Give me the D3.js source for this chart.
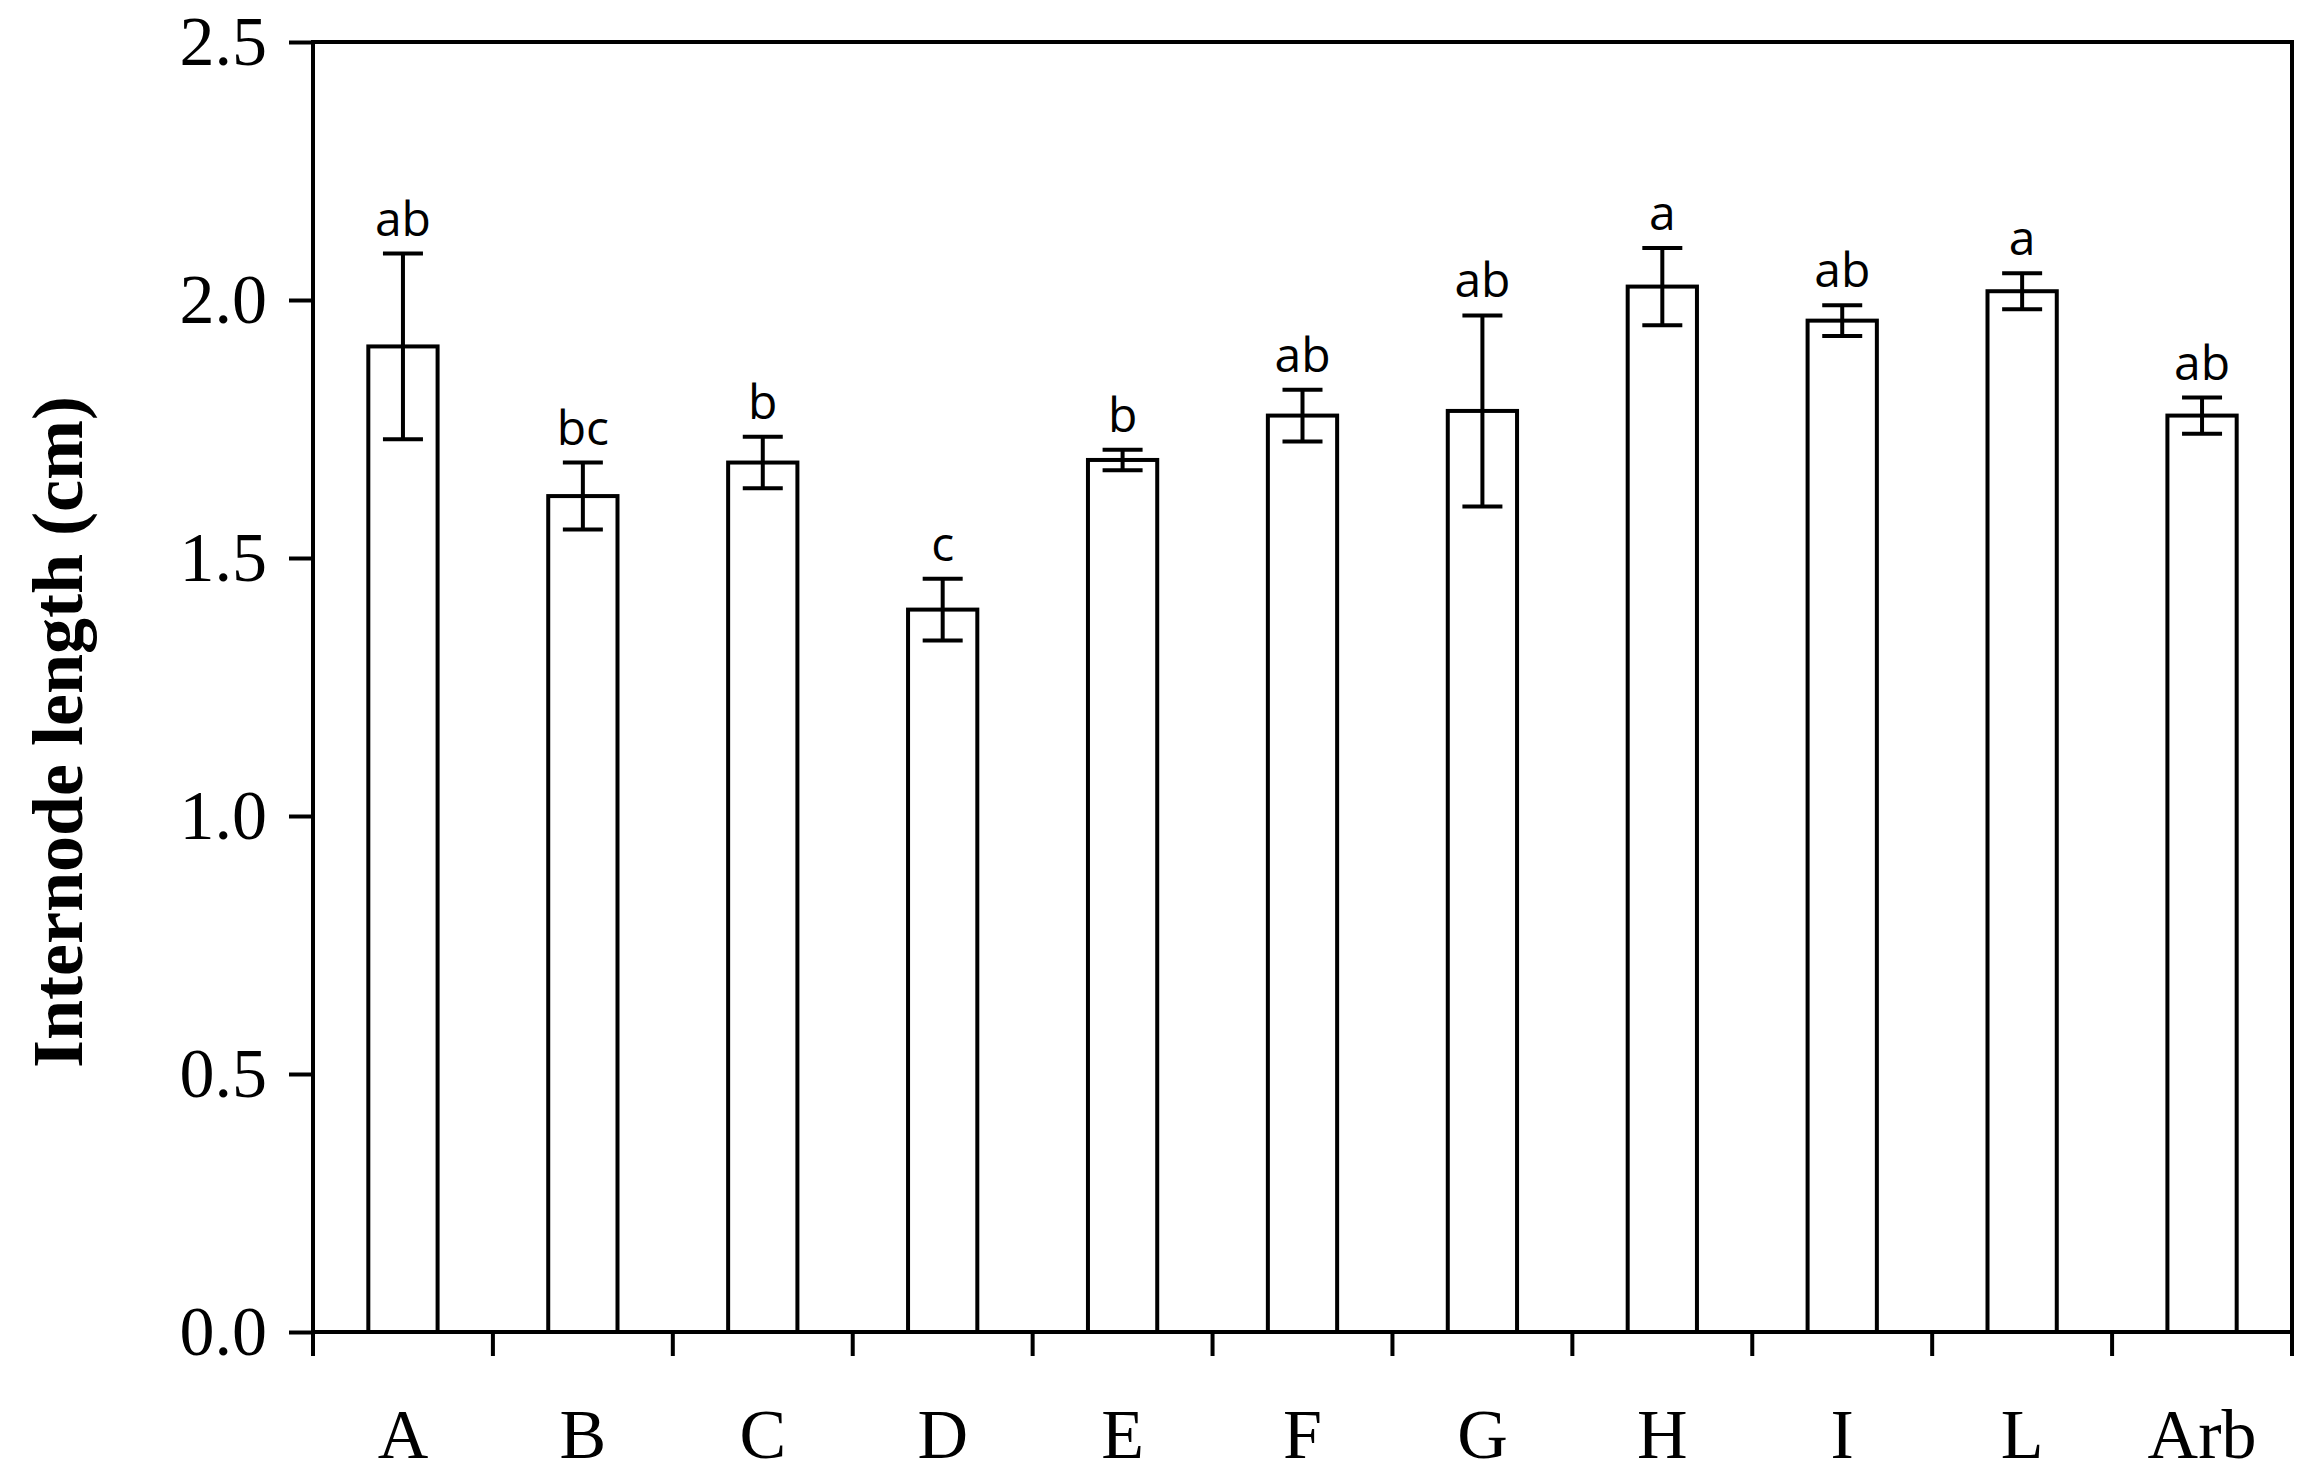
<html>
<head>
<script src="https://cdn.jsdelivr.net/npm/d3@7"></script>
<style>body{margin:0;background:#fff}</style>
</head>
<body>
<script>
var categories = ["A", "B", "C", "D", "E", "F", "G", "H", "I", "L", "Arb"];
var means = [1.91, 1.62, 1.685, 1.40, 1.69, 1.776, 1.785, 2.026, 1.96, 2.017, 1.776];
var errors = [0.18, 0.065, 0.05, 0.06, 0.02, 0.05, 0.185, 0.075, 0.03, 0.035, 0.035];
var letters = ["ab", "bc", "b", "c", "b", "ab", "ab", "a", "ab", "a", "ab"];
var yTicks = [0, 0.5, 1.0, 1.5, 2.0, 2.5];

var width = 2314, height = 1465;
var plotLeft = 313, plotRight = 2292, plotTop = 42, plotBottom = 1332;

var svg = d3.select("body").append("svg").attr("width", width).attr("height", height);

var x = d3.scaleBand().domain(categories).range([plotLeft, plotRight]);
var y = d3.scaleLinear().domain([0, 2.5]).range([plotBottom, plotTop]);

var bw = x.bandwidth() * 0.385;

// bars
svg.selectAll(".bar").data(categories).enter().append("rect")
    .attr("x", function(d) { return x(d) + x.bandwidth() / 2 - bw / 2; })
    .attr("y", function(d, i) { return y(means[i]); })
    .attr("width", bw)
    .attr("height", function(d, i) { return plotBottom - y(means[i]); })
    .attr("fill", "#fff").attr("stroke", "#000").attr("stroke-width", 4);

// error bars
var cap = 20;
categories.forEach(function(c, i) {
    var cx = x(c) + x.bandwidth() / 2;
    var g = svg.append("g").attr("stroke", "#000").attr("stroke-width", 4);
    g.append("line").attr("x1", cx).attr("x2", cx).attr("y1", y(means[i] + errors[i])).attr("y2", y(means[i] - errors[i]));
    g.append("line").attr("x1", cx - cap).attr("x2", cx + cap).attr("y1", y(means[i] + errors[i])).attr("y2", y(means[i] + errors[i]));
    g.append("line").attr("x1", cx - cap).attr("x2", cx + cap).attr("y1", y(means[i] - errors[i])).attr("y2", y(means[i] - errors[i]));
    svg.append("text").attr("x", cx).attr("y", y(means[i] + errors[i]) - 18)
        .attr("text-anchor", "middle").attr("font-family", "Open Sans").attr("font-size", 48)
        .text(letters[i]);
});

// frame
svg.append("rect").attr("x", plotLeft).attr("y", plotTop).attr("width", plotRight - plotLeft).attr("height", plotBottom - plotTop)
    .attr("fill", "none").attr("stroke", "#000").attr("stroke-width", 4);

// y axis
var yAxis = svg.append("g").attr("transform", "translate(" + plotLeft + ",0)")
    .call(d3.axisLeft(y).tickValues(yTicks).tickSize(24).tickPadding(22).tickFormat(d3.format(".1f")));
yAxis.select(".domain").remove();
yAxis.selectAll("line").attr("stroke-width", 4);
yAxis.selectAll("text").attr("font-family", "Liberation Serif").attr("font-size", 70).attr("fill", "#000");

// x axis: ticks at band boundaries
var bounds = categories.map(function(c) { return x(c); }).concat([plotRight]);
svg.selectAll(".xt").data(bounds).enter().append("line")
    .attr("x1", function(d) { return d; }).attr("x2", function(d) { return d; })
    .attr("y1", plotBottom).attr("y2", plotBottom + 24)
    .attr("stroke", "#000").attr("stroke-width", 4);
svg.selectAll(".xl").data(categories).enter().append("text")
    .attr("x", function(d) { return x(d) + x.bandwidth() / 2; })
    .attr("y", 1458)
    .attr("text-anchor", "middle").attr("font-family", "Liberation Serif").attr("font-size", 70)
    .text(function(d) { return d; });

// y title
svg.append("text").attr("transform", "translate(82,732) rotate(-90)")
    .attr("text-anchor", "middle").attr("font-family", "Liberation Serif").attr("font-weight", "bold")
    .attr("font-size", 72).text("Internode length (cm)");
</script>
</body>
</html>
